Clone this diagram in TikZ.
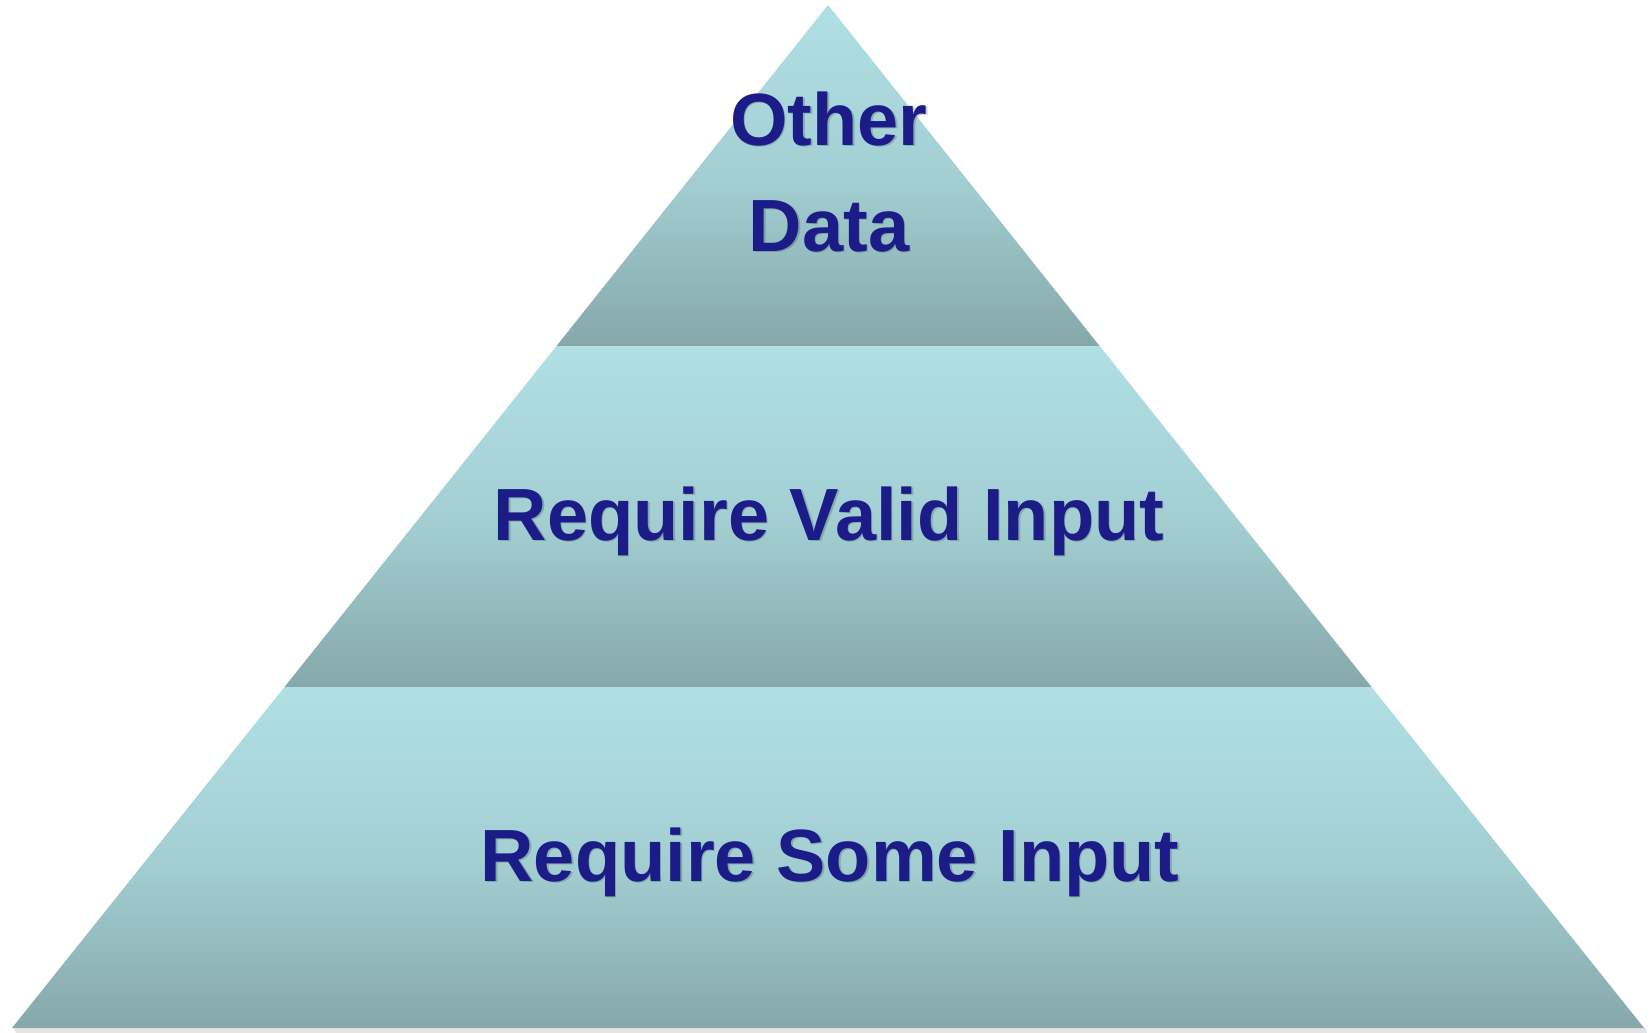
\documentclass[tikz,border=0pt]{standalone}
\usepackage{fontspec}
\setmainfont{Liberation Sans}
\definecolor{bandtop}{HTML}{B0E0E4}
\definecolor{bandmid}{HTML}{A3CFD3}
\definecolor{bandbot}{HTML}{86A8AA}
\definecolor{labelblue}{HTML}{1C1C88}
\begin{document}
\begin{tikzpicture}[x=0.5pt,y=-0.5pt,
  band/.style={top color=bandtop,bottom color=bandbot,middle color=bandmid},
  lbl/.style={anchor=base,inner sep=0pt,text=labelblue,font=\bfseries\fontsize{37}{44}\selectfont},
  lblshadow/.style={anchor=base,inner sep=0pt,text=black,opacity=0.18,font=\bfseries\fontsize{37}{44}\selectfont}]
\useasboundingbox (0,0) rectangle (1651,1033);
\fill[white] (0,0) rectangle (1651,1033);
% coordinates of the pyramid
\coordinate (apex) at (828,5);
\coordinate (l1) at (556.5,346);
\coordinate (r1) at (1099.5,346);
\coordinate (l2) at (284.5,687);
\coordinate (r2) at (1371.5,687);
\coordinate (bl) at (12,1028);
\coordinate (br) at (1644,1028);
% soft shadow
\fill[black,opacity=0.10] (14,1028) -- (1646,1028) -- (1647,1033) -- (16,1033) -- cycle;
\fill[black,opacity=0.06] (828,7) -- (1647,1031) -- (1644,1028) -- (828,5) -- cycle;
% bands
\shade[band] (apex) -- (r1) -- (l1) -- cycle;
\shade[band] (l1) -- (r1) -- (r2) -- (l2) -- cycle;
\shade[band] (l2) -- (r2) -- (br) -- (bl) -- cycle;
% label shadows
\node[lblshadow] (otherAs) at (830.5,146.5) {Other};
\node[lblshadow] (otherBs) at (830.5,252.5) {Data};
\node[lblshadow] (valids) at (830.5,541.5) {Require Valid Input};
\node[lblshadow] (somes) at (831.5,882.5) {Require Some Input};
% labels
\node[lbl] (otherA) at (829,145) {Other};
\node[lbl] (otherB) at (829,251) {Data};
\node[lbl] (valid) at (829,540) {Require Valid Input};
\node[lbl] (some) at (830,881) {Require Some Input};
\end{tikzpicture}
\end{document}
